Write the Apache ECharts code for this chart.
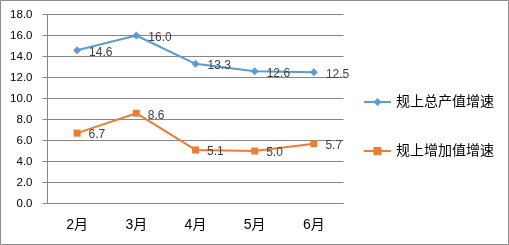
<!DOCTYPE html>
<html>
<head>
<meta charset="utf-8">
<script src="https://cdn.jsdelivr.net/npm/echarts@6/dist/echarts.min.js"></script>
<style>
	html, body { margin: 0; padding: 0; background: #fff; }
	#chart { width: 509px; height: 245px; }
</style>
</head>
<body>
<div id="chart"></div>
<script>
	// 月份
	var months = ['2月', '3月', '4月', '5月', '6月'];
	// 规上总产值增速
	var outputGrowth = [14.6, 16.0, 13.3, 12.6, 12.5];
	// 规上增加值增速
	var addedGrowth = [6.7, 8.6, 5.1, 5.0, 5.7];
	var seriesNames = ['规上总产值增速', '规上增加值增速'];
	var yTicks = { min: 0, max: 18, interval: 2 };

	var numFont = '"Liberation Sans", "Noto Sans CJK SC", sans-serif';

	function makeLabel() {
		return {
			show: true,
			position: 'right',
			distance: 8,
			offset: [0, 2],
			formatter: function (p) { return p.value.toFixed(1); },
			color: '#404040',
			fontFamily: numFont,
			fontSize: 12
		};
	}

	var chart = echarts.init(document.getElementById('chart'), null, { renderer: 'canvas' });
	chart.setOption({
		animation: false,
		graphic: [{
			type: 'rect',
			shape: { x: 0.5, y: 0.5, width: 508, height: 244 },
			style: { fill: 'none', stroke: '#8c8c8c', lineWidth: 1 },
			silent: true
		}],
		grid: { left: 47.5, right: 165.5, top: 14.5, bottom: 41.5 },
		legend: {
			orient: 'vertical',
			left: 358,
			top: 90,
			itemWidth: 27,
			itemHeight: 10,
			itemGap: 35,
			textStyle: { color: '#000', fontSize: 14, fontFamily: numFont },
			data: seriesNames
		},
		xAxis: {
			type: 'category',
			data: months,
			boundaryGap: true,
			axisLine: { lineStyle: { color: '#868686' } },
			axisTick: { length: 5, lineStyle: { color: '#868686' } },
			axisLabel: { color: '#000', fontSize: 14, margin: 15, fontFamily: numFont }
		},
		yAxis: {
			type: 'value',
			min: yTicks.min,
			max: yTicks.max,
			interval: yTicks.interval,
			axisLine: { show: true, lineStyle: { color: '#868686' } },
			axisTick: { show: true, length: 5, lineStyle: { color: '#868686' } },
			splitLine: { lineStyle: { color: '#868686' } },
			axisLabel: {
				color: '#000',
				fontSize: 11.5,
				margin: 15,
				fontFamily: numFont,
				formatter: function (v) { return v.toFixed(1); }
			}
		},
		series: [
			{
				name: seriesNames[0],
				type: 'line',
				data: outputGrowth,
				symbol: 'diamond',
				symbolSize: 8,
				lineStyle: { width: 2, color: '#5b9bd5' },
				itemStyle: { color: '#5b9bd5' },
				label: makeLabel()
			},
			{
				name: seriesNames[1],
				type: 'line',
				data: addedGrowth,
				symbol: 'rect',
				symbolSize: 7,
				lineStyle: { width: 2, color: '#ed7d31' },
				itemStyle: { color: '#ed7d31' },
				label: makeLabel()
			}
		]
	});
</script>
</body>
</html>
